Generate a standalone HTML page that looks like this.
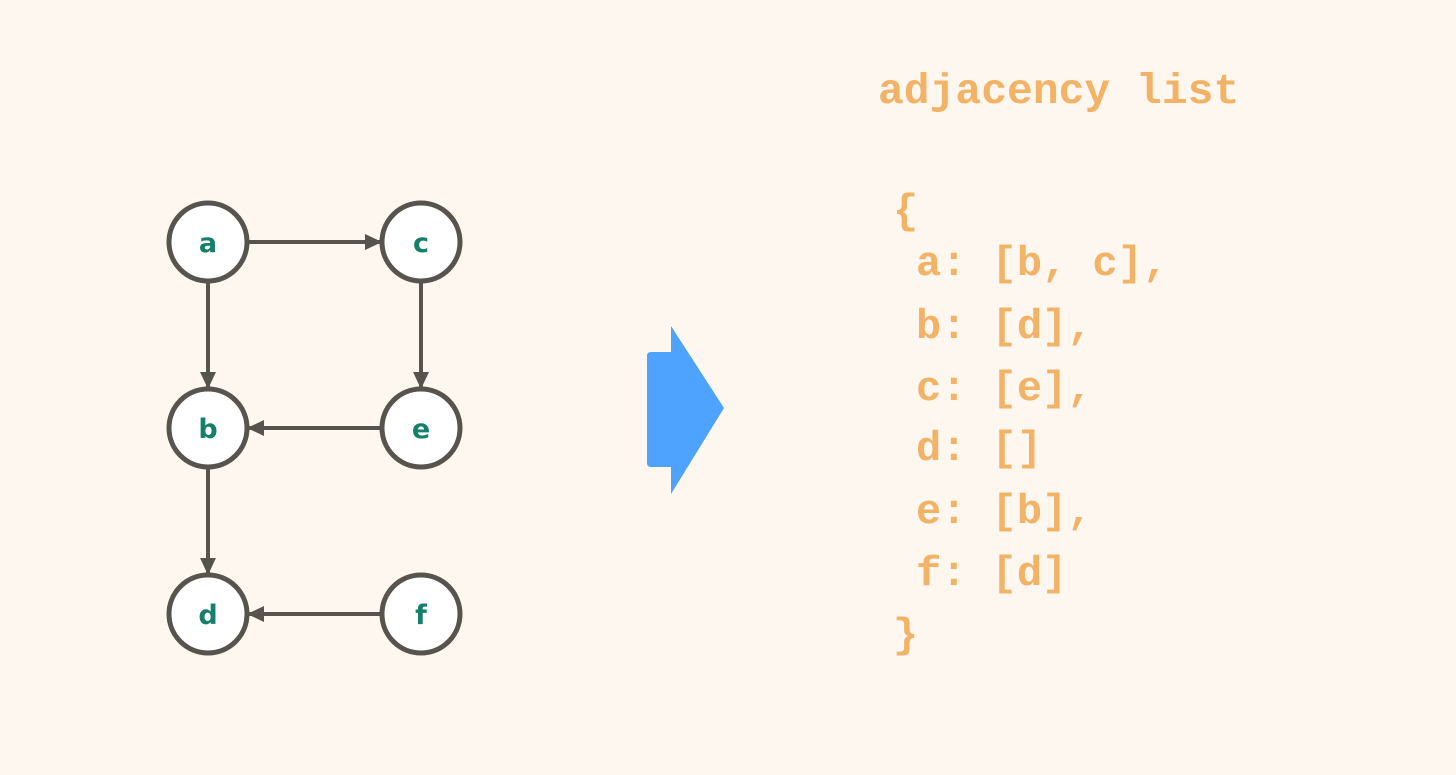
<!DOCTYPE html>
<html><head><style>
body{margin:0;width:1456px;height:775px;background:#fdf7f0;overflow:hidden;position:relative}
.t{position:absolute;font-family:"Liberation Mono",monospace;font-weight:bold;color:#f2b366;white-space:pre;font-size:42px;line-height:1}
</style></head><body>
<svg width="1456" height="775" style="position:absolute;left:0;top:0">
<defs><marker id="ar" markerWidth="18" markerHeight="16" refX="16" refY="8" orient="auto" markerUnits="userSpaceOnUse"><path d="M0,0 L17,8 L0,16z" fill="#57544e"/></marker></defs>
<g stroke="#57544e" stroke-width="4" fill="none">
<line x1="249" y1="242" x2="381" y2="242" marker-end="url(#ar)"/>
<line x1="208" y1="283" x2="208" y2="388" marker-end="url(#ar)"/>
<line x1="421" y1="283" x2="421" y2="388" marker-end="url(#ar)"/>
<line x1="380" y1="428" x2="248" y2="428" marker-end="url(#ar)"/>
<line x1="208" y1="469" x2="208" y2="574" marker-end="url(#ar)"/>
<line x1="380" y1="614" x2="248" y2="614" marker-end="url(#ar)"/>
</g>
<g stroke="#57544e" stroke-width="5" fill="#fff">
<circle cx="208" cy="242" r="39"/><circle cx="421" cy="242" r="39"/>
<circle cx="208" cy="428" r="39"/><circle cx="421" cy="428" r="39"/>
<circle cx="208" cy="614" r="39"/><circle cx="421" cy="614" r="39"/>
</g>
<g fill="#15806a" font-family="DejaVu Sans, sans-serif" font-weight="bold" font-size="27" text-anchor="middle">
<text x="208" y="252">a</text><text x="421" y="252">c</text>
<text x="208" y="438">b</text><text x="421" y="438">e</text>
<text x="208" y="624">d</text><text x="421" y="624">f</text>
</g>
<path d="M651,352 L671,352 L671,326 L724,408 L671,494 L671,467 L651,467 Q647,467 647,463 L647,356 Q647,352 651,352z" fill="#4da3fd"/>
</svg>
<div class="t" style="left:878px;top:70px;font-size:43px">adjacency list</div>
<div class="t" style="left:893px;top:191px">{</div>
<div class="t" style="left:916px;top:243px">a: [b, c],</div>
<div class="t" style="left:916px;top:306px">b: [d],</div>
<div class="t" style="left:916px;top:368px">c: [e],</div>
<div class="t" style="left:916px;top:428px">d: []</div>
<div class="t" style="left:916px;top:491px">e: [b],</div>
<div class="t" style="left:916px;top:553px">f: [d]</div>
<div class="t" style="left:893px;top:615px">}</div>
</body></html>
